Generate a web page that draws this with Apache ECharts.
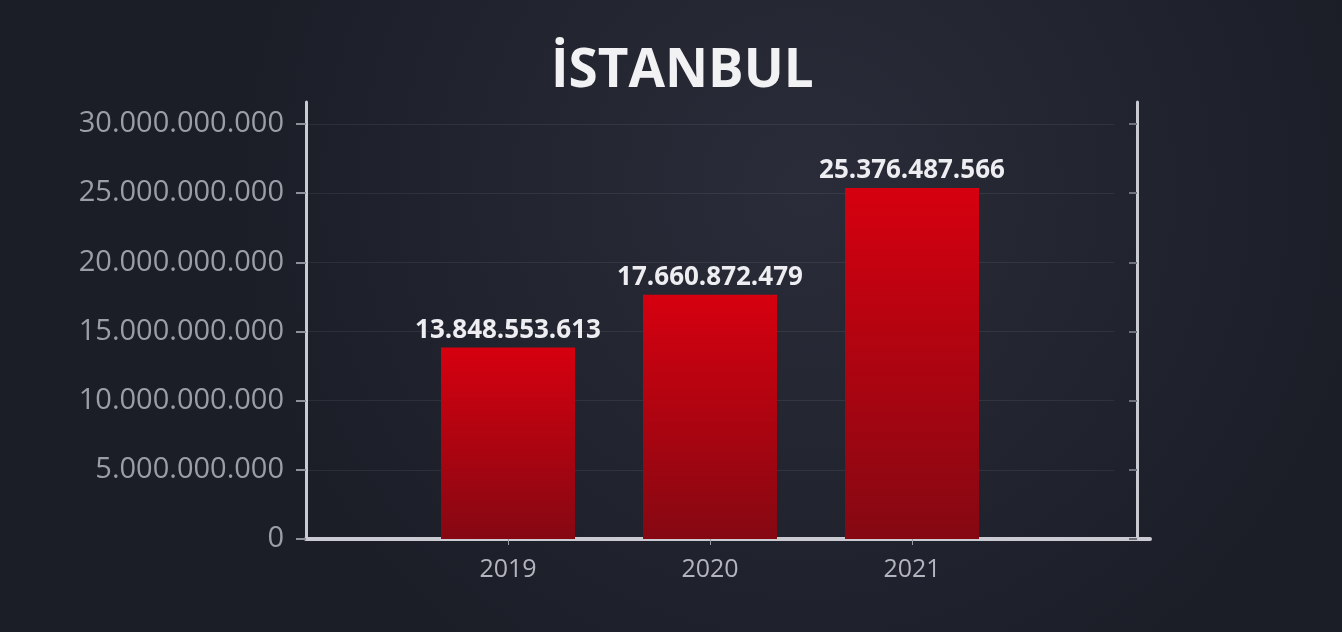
<!DOCTYPE html>
<html><head><meta charset="utf-8">
<script src="https://cdn.jsdelivr.net/npm/echarts@6/dist/echarts.min.js"></script>
<style>html,body{margin:0;padding:0;background:#1f222d;}#c{width:1342px;height:632px;}</style>
</head><body><div id="c"></div>
<script>
const title = 'İSTANBUL';
const categories = ['', '2019', '2020', '2021', ''];
const values = [null, 13848553613, 17660872479, 25376487566, null];
const yMin = 0, yMax = 30000000000, yInterval = 5000000000;

function fmt(v){ return String(Math.round(v)).replace(/\B(?=(\d{3})+(?!\d))/g, '.'); }

const FONT = 'Open Sans';
const LINE = {color: '#c9cad2', width: 3};
const chart = echarts.init(document.getElementById('c'));
chart.setOption({
  backgroundColor: {
    type: 'radial', x: 0.6, y: 0.3, r: 0.9,
    colorStops: [{offset: 0, color: '#2a2d39'}, {offset: 1, color: '#1b1d27'}]
  },
  title: {
    text: title, left: 546, top: 40,
    textStyle: {color: '#f2f2f5', fontSize: 53, fontWeight: 'bold', fontFamily: FONT}
  },
  grid: [
    {left: 306, right: 228, top: 124, bottom: 93},
    {left: 306, right: 192, top: 102, bottom: 93}
  ],
  xAxis: [{
    type: 'category', data: categories, boundaryGap: false, gridIndex: 0,
    axisLine: {show: false},
    axisTick: {show: true, length: 6, lineStyle: {color: '#9a9ca5', width: 1},
      interval: (i) => i > 0 && i < categories.length - 1},
    axisLabel: {color: '#b3b4bc', fontSize: 25, fontFamily: FONT, margin: 18, interval: 0},
    splitLine: {show: false}
  }, {
    type: 'value', gridIndex: 1, min: 0, max: 1,
    axisLine: {show: true, lineStyle: {color: '#c9cad2', width: 4}},
    axisTick: {show: false}, axisLabel: {show: false}, splitLine: {show: false}
  }],
  yAxis: [{
    type: 'value', min: yMin, max: yMax, interval: yInterval, gridIndex: 0,
    axisLine: {show: false},
    axisTick: {show: true, inside: false, length: 10, lineStyle: {color: '#8e909a', width: 2}},
    axisLabel: {color: '#9c9ea7', fontSize: 29, fontFamily: FONT, margin: 22, formatter: fmt},
    splitLine: {show: true, lineStyle: {color: 'rgba(255,255,255,0.07)', width: 1}}
  }, {
    type: 'value', min: yMin, max: yMax, interval: yInterval, position: 'right', offset: 23, gridIndex: 0,
    axisLine: {show: false},
    axisTick: {show: true, inside: true, length: 8, lineStyle: {color: '#6e707a', width: 2}},
    axisLabel: {show: false}, splitLine: {show: false}
  }, {
    type: 'value', gridIndex: 1, min: 0, max: 1, position: 'left',
    axisLine: {show: true, lineStyle: LINE},
    axisTick: {show: false}, axisLabel: {show: false}, splitLine: {show: false}
  }, {
    type: 'value', gridIndex: 1, min: 0, max: 1, position: 'right', offset: -13,
    axisLine: {show: true, lineStyle: LINE},
    axisTick: {show: false}, axisLabel: {show: false}, splitLine: {show: false}
  }],
  series: [{
    type: 'bar', data: values, barWidth: 134, xAxisIndex: 0, yAxisIndex: 0,
    itemStyle: {
      color: {type: 'linear', x: 0, y: 0, x2: 0, y2: 1,
        colorStops: [{offset: 0, color: '#d6000f'}, {offset: 1, color: '#850812'}]}
    },
    label: {
      show: true, position: 'top', distance: 4, color: '#eeeef2', fontSize: 26,
      fontWeight: 'bold', fontFamily: FONT, formatter: p => fmt(p.value)
    }
  }]
});
</script></body></html>
